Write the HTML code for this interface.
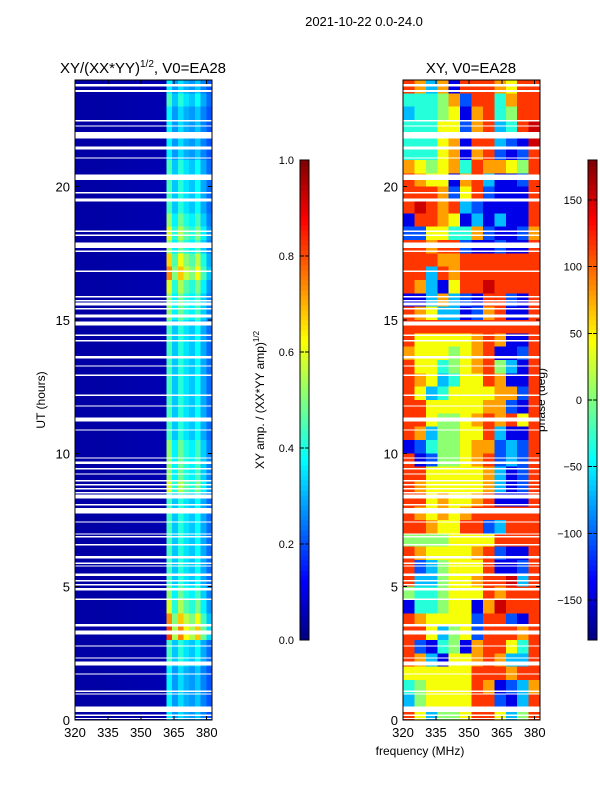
<!DOCTYPE html>
<html><head><meta charset="utf-8">
<style>
html,body{margin:0;padding:0;background:#fff;width:600px;height:800px;overflow:hidden}
svg{display:block;font-family:"Liberation Sans","DejaVu Sans",sans-serif}
</style></head>
<body>
<svg id="fig" width="600" height="800" viewBox="0 0 600 800" shape-rendering="crispEdges">
<text x="364" y="26" font-size="13" text-anchor="middle">2021-10-22 0.0-24.0</text>
<text x="143" y="73" font-size="15" text-anchor="middle">XY/(XX*YY)<tspan font-size="10" dy="-6">1/2</tspan><tspan dy="6">, V0=EA28</tspan></text>
<text x="471" y="73" font-size="15" text-anchor="middle">XY, V0=EA28</text>
<text transform="translate(45,400) rotate(-90)" font-size="12" text-anchor="middle">UT (hours)</text>
<text transform="translate(264,400) rotate(-90)" font-size="12" text-anchor="middle">XY amp. / (XX*YY amp)<tspan font-size="8" dy="-5">1/2</tspan></text>
<text transform="translate(545,400) rotate(-90)" font-size="12" text-anchor="middle">phase (deg)</text>
<text x="420" y="755" font-size="12" text-anchor="middle">frequency (MHz)</text>
<g id="amp"></g><g id="phase"></g><g id="cb1"></g><g id="cb2"></g>
</svg>
<script>
// ---- data ----
const xTicks=[320,335,350,365,380];
const yTicks=[0,5,10,15,20];
const ampTicks=[0.0,0.2,0.4,0.6,0.8,1.0];
const phaseTicks=[-150,-100,-50,0,50,100,150];
// amplitude band level per 0.5h row, top (24h) to bottom (0h), in tenths
const bandAmp=[3,4,3,3,3,3,4,4,4,4,5,6,5,7,8,6,5,5,4,4,4,4,4,4,4,4,4,5,5,5,6,4,4,4,4,4,4,4,5,6,8,9,4,4,3,3,3,3];
// frequency profile across 24 channels of 2.6 MHz (320-382.4)
const freqProfile=[0,0,0,0,0,0,0,0,0,0,0,0,0,0,0,0,1.0,0.6,0.9,0.7,0.6,0.8,0.5,0.3];
// phase per 0.5h row (top->bottom), 12 channels; digit d -> -180+37d deg
const phaseRows=["873718887688","444572884788","344561784588","444662783489","444671883219","444671782128","765674877658","876617831128","888726821118","898783211118","188761313118","226644721127","887882112118","888778888888","883878888888","873168898888","113732188218","876331278118","888888888888","866666787118","766656781128","866456785318","876346687118","863466667728","886666677218","886556787868","873556683118","124556772328","812556782328","886666673128","876666673128","886766781118","876767888888","887668823888","555566668888","876666782118","823566681128","833566788938","544566687888","144566179888","876666288218","886356288878","821451788648","873166787338","666666888788","456666871237","356666882138","863556886358"];
const gaps=[[23.75,23.85],[23.55,23.62],[22.45,22.5],[22.25,22.3],[21.8,22.05],[21.4,21.5],[21.05,21.1],[20.25,20.45],[19.75,19.8],[19.45,19.55],[18.3,18.35],[18.15,18.2],[17.7,17.9],[17.55,17.6],[16.8,16.85],[15.85,15.9],[15.7,15.75],[15.55,15.65],[15.4,15.45],[15.1,15.2],[14.8,14.95],[14.4,14.45],[14.2,14.25],[13.55,13.65],[13.25,13.3],[12.9,12.95],[12.15,12.2],[11.75,11.8],[11.2,11.35],[10.85,10.9],[9.8,9.85],[9.6,9.7],[9.4,9.45],[9.2,9.25],[8.95,9.0],[8.8,8.85],[8.65,8.7],[8.5,8.55],[8.3,8.45],[8.05,8.1],[7.75,7.95],[7.4,7.45],[6.95,7.0],[6.85,6.9],[6.55,6.6],[6.05,6.15],[5.85,5.9],[5.75,5.8],[5.4,5.5],[5.2,5.25],[5.05,5.1],[4.85,4.95],[4.5,4.55],[3.5,3.6],[3.2,3.35],[2.75,2.8],[2.3,2.35],[2.05,2.2],[1.7,1.75],[1.05,1.1],[0.95,1.0],[0.3,0.5],[0.15,0.2],[0.05,0.08]];

// ---- helpers ----
const NS="http://www.w3.org/2000/svg";
function jet(v){v=Math.max(0,Math.min(1,v));
 const f=x=>Math.round(255*Math.max(0,Math.min(1,x)));
 const r=f(Math.min(4*v-1.5,-4*v+4.5)),g=f(Math.min(4*v-0.5,-4*v+3.5)),b=f(Math.min(4*v+0.5,-4*v+2.5));
 return `rgb(${r},${g},${b})`;}
function mk(tag,attrs,parent){const e=document.createElementNS(NS,tag);for(const k in attrs)e.setAttribute(k,attrs[k]);parent.appendChild(e);return e;}
const Y0=720,Y1=80,FMIN=320,FMAX=382.4;
const yS=h=>Y0-(h/24)*(Y0-Y1);

function panel(gid,x0,x1,cellFn,ncols,nameBase){
 const g=document.getElementById(gid);
 const xS=f=>x0+(f-FMIN)/(FMAX-FMIN)*(x1-x0);
 const nrows=48;
 for(let r=0;r<nrows;r++){
  const hTop=24-r*0.5,hBot=hTop-0.5;
  for(let c=0;c<ncols;c++){
   const fa=FMIN+c*(FMAX-FMIN)/ncols,fb=FMIN+(c+1)*(FMAX-FMIN)/ncols;
   const xa=xS(fa),xb=xS(fb),ya=yS(hTop),yb=yS(hBot);
   const e=mk('rect',{x:xa.toFixed(2),y:ya.toFixed(2),width:(xb-xa+0.3).toFixed(2),height:(yb-ya+0.3).toFixed(2),fill:jet(cellFn(r,c))},g);
   
   
  }
 }
 for(const [a,b] of gaps){
  const e=mk('rect',{x:x0,y:yS(b).toFixed(2),width:x1-x0,height:Math.max(1.2,yS(a)-yS(b)).toFixed(2),fill:'#fff'},g);
  
  
 }
 const fr=mk('rect',{x:x0,y:Y1,width:x1-x0,height:Y0-Y1,fill:'none',stroke:'#000','stroke-width':1},g);
 
 
 for(const t of xTicks){const x=xS(t);
  mk('line',{x1:x,x2:x,y1:Y0,y2:Y0-4,stroke:'#000'},g);mk('line',{x1:x,x2:x,y1:Y1,y2:Y1+4,stroke:'#000'},g);
  const e=mk('text',{x:x,y:Y0+17,'font-size':13,'text-anchor':'middle'},g);e.textContent=t;
  
  }
 for(const t of yTicks){const y=yS(t);
  mk('line',{x1:x0,x2:x0+4,y1:y,y2:y,stroke:'#000'},g);mk('line',{x1:x1,x2:x1-4,y1:y,y2:y,stroke:'#000'},g);
  const e=mk('text',{x:x0-5,y:y+5,'font-size':13,'text-anchor':'end'},g);e.textContent=t;
  
  }
}
panel('amp',75,212,(r,c)=>{const p=freqProfile[c];return p>0?0.14+bandAmp[r]/10*p*0.75:0.035+c*0.001;},24,'amp-heatmap');
panel('phase',403,540,(r,c)=>{const d=+phaseRows[r][c];const ph=-180+d*37;return (ph+180)/360;},12,'phase-heatmap');

function colorbar(gid,x0,vmin,vmax,ticks,fmt,name){
 const g=document.getElementById(gid);const top=160,bot=640,w=9;
 const vS=v=>bot-(v-vmin)/(vmax-vmin)*(bot-top);
 for(let i=0;i<96;i++){const v0=i/96,v1=(i+1)/96;
  mk('rect',{x:x0,y:(bot-v1*480).toFixed(2),width:w,height:5.3,fill:jet((v0+v1)/2)},g);}
 const fr=mk('rect',{x:x0,y:top,width:w,height:bot-top,fill:'none',stroke:'#000'},g);
 
 
 for(const t of ticks){const y=vS(t);
  mk('line',{x1:x0+w-4,x2:x0+w,y1:y,y2:y,stroke:'#000'},g);mk('line',{x1:x0,x2:x0+4,y1:y,y2:y,stroke:'#000'},g);
  const e=mk('text',{x:x0-6,y:y+4,'font-size':11,'text-anchor':'end'},g);e.textContent=fmt(t);
  
  }
}
colorbar('cb1',300,0,1,ampTicks,t=>t.toFixed(1),'amp-colorbar');
colorbar('cb2',588,-180,180,phaseTicks,t=>t<0?'\u2212'+(-t):String(t),'phase-colorbar');
</script>
</body></html>
